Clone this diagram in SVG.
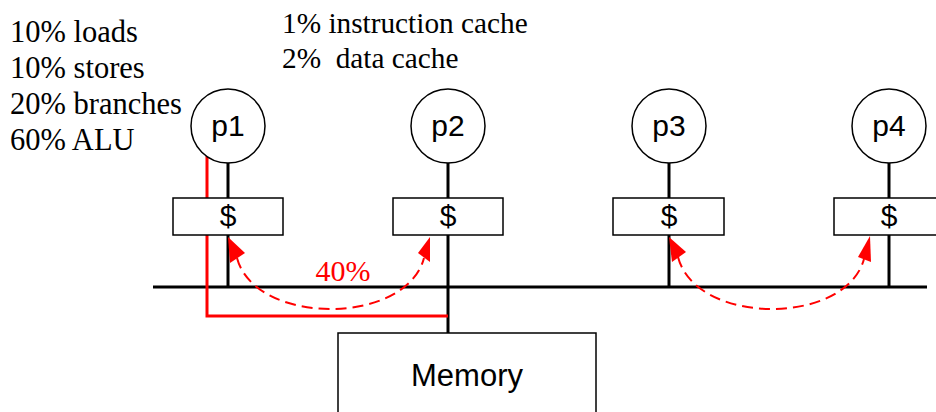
<svg xmlns="http://www.w3.org/2000/svg" width="936" height="412" viewBox="0 0 936 412">
<style>
.serif{font-family:"Liberation Serif","Times New Roman",serif;font-size:30.5px;fill:#000}
.serif2{font-family:"Liberation Serif","Times New Roman",serif;font-size:29.3px;fill:#000;white-space:pre}
.sans{font-family:"Liberation Sans",Arial,sans-serif;font-size:30px;fill:#000;text-anchor:middle}
.circ{fill:#fff;stroke:#000;stroke-width:1.5}
.box{fill:#fff;stroke:#000;stroke-width:1.5}
.wire{stroke:#000;stroke-width:3;fill:none}
.red{stroke:#f00;stroke-width:3;fill:none}
.dash{stroke:#f00;stroke-width:2;fill:none;stroke-dasharray:11 6}
.head{fill:#f00}
</style>
<rect width="936" height="412" fill="#fff"/>
<g id="notes">
<text class="serif" x="10" y="42">10% loads</text>
<text class="serif" x="10" y="78">10% stores</text>
<text class="serif" x="10" y="114">20% branches</text>
<text class="serif" x="10" y="150">60% ALU</text>
<text class="serif2" x="282" y="33">1% instruction cache</text>
<text class="serif2" x="282" y="68">2%  data cache</text>
</g>
<g id="connectors">
<line class="wire" x1="153" y1="287" x2="927" y2="287"/>
<line class="wire" x1="228" y1="160" x2="228" y2="198"/>
<line class="wire" x1="228" y1="235" x2="228" y2="287"/>
<line class="wire" x1="448" y1="160" x2="448" y2="198"/>
<line class="wire" x1="448" y1="235" x2="448" y2="333"/>
<line class="wire" x1="669" y1="160" x2="669" y2="198"/>
<line class="wire" x1="669" y1="235" x2="669" y2="287"/>
<line class="wire" x1="889" y1="160" x2="889" y2="198"/>
<line class="wire" x1="889" y1="235" x2="889" y2="287"/>
<path class="red" d="M207,156 V316 H448"/>
<path class="dash" d="M237,258 C255,326 406,326 424,258"/>
<polygon class="head" points="228,237 230,263 245,253"/>
<polygon class="head" points="430,237 418,253 430,262"/>
<text x="343" y="281" style="font-family:'Liberation Serif','Times New Roman',serif;font-size:30px;fill:#f00;text-anchor:middle">40%</text>
<path class="dash" d="M678,257 C696,326 846,326 864,259"/>
<polygon class="head" points="669,237 672,262 686,252"/>
<polygon class="head" points="870,236 858,257 871,262"/>
</g>
<g id="p1"><circle class="circ" cx="228" cy="126" r="37"/><text class="sans" x="228" y="136">p1</text></g>
<g id="p2"><circle class="circ" cx="448" cy="126" r="37"/><text class="sans" x="448" y="136">p2</text></g>
<g id="p3"><circle class="circ" cx="669" cy="126" r="37"/><text class="sans" x="669" y="136">p3</text></g>
<g id="p4"><circle class="circ" cx="889" cy="126" r="37"/><text class="sans" x="889" y="136">p4</text></g>
<g id="cache1"><rect class="box" x="173" y="198" width="110" height="37"/><text class="sans" x="228" y="226">$</text></g>
<g id="cache2"><rect class="box" x="393" y="198" width="110" height="37"/><text class="sans" x="448" y="226">$</text></g>
<g id="cache3"><rect class="box" x="613" y="198" width="111" height="37"/><text class="sans" x="669" y="226">$</text></g>
<g id="cache4"><rect class="box" x="834" y="198" width="110" height="37"/><text class="sans" x="889" y="226">$</text></g>
<g id="memory"><rect class="box" x="338" y="333" width="258" height="100"/><text class="sans" x="467" y="386" style="font-size:31px">Memory</text></g>
</svg>
